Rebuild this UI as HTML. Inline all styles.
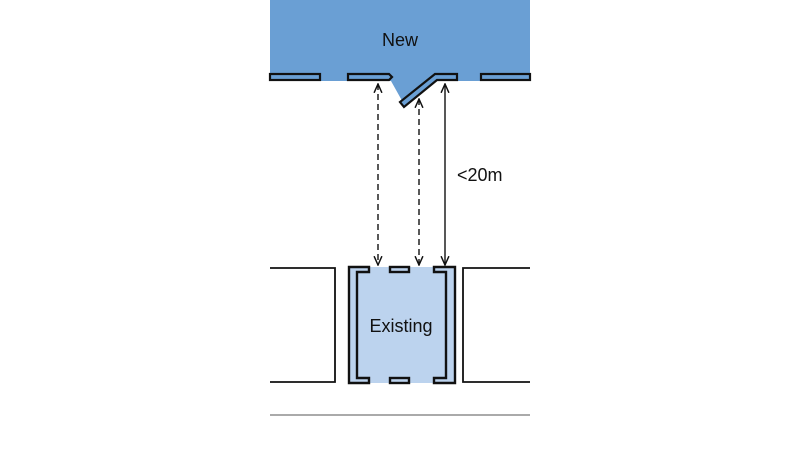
<!DOCTYPE html>
<html><head><style>body{margin:0;background:#fff}svg{display:block}</style></head><body>
<svg width="800" height="450" viewBox="0 0 800 450" xmlns="http://www.w3.org/2000/svg">
<defs>
<marker id="ah" viewBox="0 0 10 10" refX="9" refY="5" markerWidth="7" markerHeight="7" orient="auto-start-reverse"><path d="M0,1 L9,5 L0,9" fill="none" stroke="#111" stroke-width="1.5"/></marker>
</defs>
<path d="M270,0 H530 V81 H436 L405,106 L391,81 H270 Z" fill="#6a9fd4"/>
<g fill="#6a9fd4" stroke="#111" stroke-width="2.2">
<rect x="270" y="74" width="50" height="6"/>
<path d="M348,74 H389 L392,77 L389,80 H348 Z"/>
<path d="M435,74 H457 V80 H437 L404,107 L400,102 Z"/>
<rect x="481" y="74" width="49" height="6"/>
</g>
<text x="400" y="46" font-family="Liberation Sans, sans-serif" font-size="18" text-anchor="middle" fill="#111">New</text>
<g stroke="#111" stroke-width="1.4" fill="none">
<line x1="378" y1="84" x2="378" y2="265" stroke-dasharray="6,4" marker-start="url(#ah)" marker-end="url(#ah)"/>
<line x1="419" y1="99" x2="419" y2="265" stroke-dasharray="6,4" marker-start="url(#ah)" marker-end="url(#ah)"/>
<line x1="445" y1="84" x2="445" y2="265" marker-start="url(#ah)" marker-end="url(#ah)"/>
</g>
<text x="457" y="181" font-family="Liberation Sans, sans-serif" font-size="18" fill="#111">&lt;20m</text>
<rect x="348" y="267" width="107" height="116" fill="#bcd3ee"/>
<g fill="#bcd3ee" stroke="#111" stroke-width="2.4">
<path d="M369,267 H349 V383 H369 V378 H357 V272 H369 Z"/>
<path d="M434,267 H455 V383 H434 V378 H446 V272 H434 Z"/>
<rect x="390" y="267" width="19" height="5"/>
<rect x="390" y="378" width="19" height="5"/>
</g>
<text x="401" y="332" font-family="Liberation Sans, sans-serif" font-size="18" text-anchor="middle" fill="#111">Existing</text>
<g stroke="#111" stroke-width="1.8" fill="none">
<path d="M270,268 H335 V382 H270"/>
<path d="M530,268 H463 V382 H530"/>
</g>
<line x1="270" y1="415" x2="530" y2="415" stroke="#555" stroke-width="1"/>
</svg>
</body></html>
